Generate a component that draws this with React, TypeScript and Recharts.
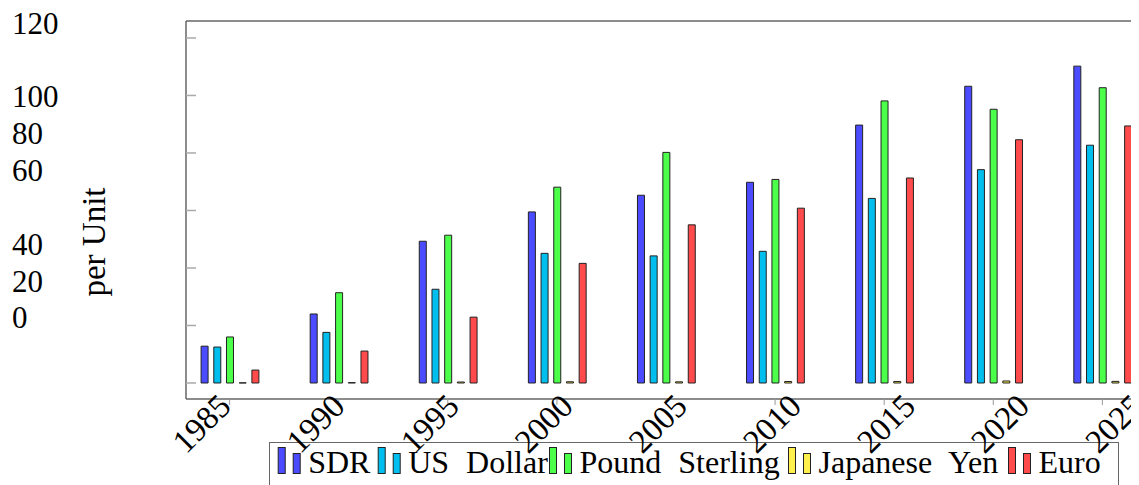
import { Bar, BarChart, XAxis, YAxis } from 'recharts'

const years = [1985, 1990, 1995, 2000, 2005, 2010, 2015, 2020, 2025]
const sdr = [12.8, 24.0, 49.3, 59.5, 65.3, 69.8, 89.7, 103.2, 110.2]
const usDollar = [12.5, 17.6, 32.6, 45.1, 44.2, 45.8, 64.2, 74.2, 82.7]
const poundSterling = [16.0, 31.4, 51.4, 68.1, 80.2, 70.8, 98.1, 95.2, 102.7]
const japaneseYen = [0.05, 0.12, 0.34, 0.42, 0.4, 0.52, 0.53, 0.7, 0.56]
const euro = [4.5, 11.1, 22.9, 41.6, 55.0, 60.8, 71.3, 84.6, 89.4]
const yTicks = [0, 20, 40, 60, 80, 100, 120]

const series = [
  { key: 'sdr', name: 'SDR', color: '#4b4bff' },
  { key: 'usd', name: 'US Dollar', color: '#00bfef' },
  { key: 'gbp', name: 'Pound Sterling', color: '#4bff4b' },
  { key: 'jpy', name: 'Japanese Yen', color: '#fff04b' },
  { key: 'eur', name: 'Euro', color: '#ff4b4b' },
]

const chartData = years.map((year, i) => ({
  year,
  sdr: sdr[i],
  usd: usDollar[i],
  gbp: poundSterling[i],
  jpy: japaneseYen[i],
  eur: euro[i],
}))

const font = "'Liberation Serif', serif"
const frame = '#666666'

// the reference draws its y labels shifted off their ticks, keep that look
const yLabelShift: Record<number, number> = {
  0: -65,
  20: -43.5,
  40: -23,
  60: -39.5,
  80: -19,
  100: 1.5,
  120: -14,
}

// legend box origin and the left edge of each entry inside it
const legendBox = { x: 261, y: 434, width: 849 }
const legendSlots = [8.7, 108.7, 280, 519, 739]

function YTick({ y, payload }: { y?: number; payload?: { value: number } }) {
  const value = payload?.value ?? 0
  return (
    <text
      x={4}
      y={(y ?? 0) + (yLabelShift[value] ?? 0)}
      dominantBaseline="central"
      textAnchor="start"
      fontFamily={font}
      fontSize={31}
      fill="#000"
    >
      {value}
    </text>
  )
}

function XTick({
  x,
  y,
  index,
  payload,
}: {
  x?: number
  y?: number
  index?: number
  payload?: { value: number }
}) {
  const ax = (x ?? 0) + 3 + (index ?? 0) * 5
  const ay = (y ?? 0) + 1
  return (
    <text
      x={ax}
      y={ay}
      textAnchor="end"
      transform={`rotate(-45, ${ax}, ${ay})`}
      fontFamily={font}
      fontSize={33}
      fill="#000"
    >
      {payload?.value}
    </text>
  )
}

function ChartLegend() {
  return (
    <g transform={`translate(${legendBox.x}, ${legendBox.y})`}>
      <rect
        x={0.5}
        y={0.5}
        width={legendBox.width}
        height={60}
        fill="none"
        stroke={frame}
      />
      {series.map((s, i) => {
        const x0 = legendSlots[i]
        const words = s.name.split(' ')
        return (
          <g key={s.key}>
            <rect x={x0 + 0.5} y={5.5} width={7} height={26} fill={s.color} stroke="#222" />
            <rect x={x0 + 15.5} y={11.5} width={7} height={20} fill={s.color} stroke="#222" />
            <text x={x0 + 30.5} y={31} fontFamily={font} fontSize={32} fill="#000">
              {words.map((w, j) => (
                <tspan key={w} dx={j > 0 ? 9 : 0}>
                  {j > 0 ? ` ${w}` : w}
                </tspan>
              ))}
            </text>
          </g>
        )
      })}
    </g>
  )
}

// y title plus the legend, drawn inside the chart's own svg
function YTitle() {
  return (
    <g>
      <text
        x={86}
        y={234}
        transform="rotate(-90, 86, 234)"
        textAnchor="middle"
        dominantBaseline="central"
        fontFamily={font}
        fontSize={33}
        fill="#000"
      >
        per Unit
      </text>
      <ChartLegend />
    </g>
  )
}

export default function App() {
  return (
    <div style={{ position: 'relative', width: 1131, height: 477, overflow: 'hidden' }}>
      <BarChart
        width={1200}
        height={477}
        data={chartData}
        margin={{ top: 12, right: 62, bottom: 56, left: 178 }}
        barSize={7}
        barGap={5.7}
      >
        <XAxis
          dataKey="year"
          type="number"
          domain={[1983, 2027]}
          ticks={years}
          allowDataOverflow
          height={30}
          axisLine={{ stroke: frame, strokeWidth: 1.5 }}
          tickLine={{ stroke: '#999' }}
          tickSize={6}
          tick={<XTick />}
          interval={0}
        />
        <XAxis
          xAxisId="top"
          dataKey="year"
          type="number"
          orientation="top"
          domain={[1983, 2027]}
          ticks={years}
          allowDataOverflow
          height={1}
          axisLine={{ stroke: frame, strokeWidth: 1.5 }}
          tickLine={{ stroke: '#777' }}
          tickSize={9}
          tick={false}
          interval={0}
        />
        <YAxis
          type="number"
          domain={[-5.57, 125.9]}
          ticks={yTicks}
          allowDataOverflow
          width={1}
          mirror
          axisLine={{ stroke: frame, strokeWidth: 1.5 }}
          tickLine={{ stroke: '#aaa', strokeWidth: 1.5 }}
          tickSize={10}
          tick={<YTick />}
          interval={0}
          label={<YTitle />}
        />
        <YAxis
          yAxisId="right"
          orientation="right"
          type="number"
          domain={[-5.57, 125.9]}
          ticks={yTicks}
          allowDataOverflow
          width={1}
          mirror
          axisLine={{ stroke: frame, strokeWidth: 1.5 }}
          tickLine={{ stroke: '#aaa', strokeWidth: 1.5 }}
          tickSize={10}
          tick={false}
          interval={0}
        />
        {series.map((s) => (
          <Bar
            key={s.key}
            dataKey={s.key}
            name={s.name}
            fill={s.color}
            stroke="#222"
            strokeWidth={1}
            isAnimationActive={false}
          />
        ))}
      </BarChart>
    </div>
  )
}
